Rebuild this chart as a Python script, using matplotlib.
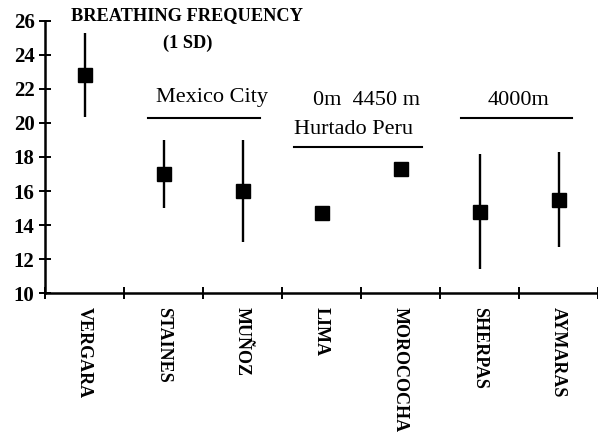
import matplotlib
matplotlib.use("Agg")
import matplotlib.pyplot as plt

# breathing frequency, mean and 1 SD per study
studies = ["VERGARA", "STAINES", "MUÑOZ", "LIMA", "MOROCOCHA", "SHERPAS", "AYMARAS"]
means = [22.8, 17.0, 16.0, 14.7, 17.3, 14.8, 15.5]
sds = [2.45, 2.0, 3.0, 0.45, 0.35, 3.4, 2.8]

plt.rcParams['font.family'] = ['Liberation Serif', 'DejaVu Serif']

fig = plt.figure(figsize=(5.98, 4.37), dpi=100)
ax = fig.add_axes([45 / 598, 1 - 293.3 / 437, 553 / 598, 272.6 / 437])

x = list(range(len(studies)))
ax.errorbar(x, means, yerr=sds, fmt='s', color='black', ms=10.5,
            elinewidth=1.7, capsize=0)

ax.set_xlim(-0.5, 6.4)
ax.set_ylim(10, 26)
ax.set_yticks(range(10, 27, 2))
ax.set_yticklabels([str(v) for v in range(10, 27, 2)], fontweight='bold', fontsize=15)

# ticks sit on the boundaries between studies, labels under each study
ax.set_xticks([i + 0.5 for i in range(-1, 7)])
ax.set_xticklabels([])
ax.set_xticks(x, minor=True)
ax.set_xticklabels(studies, minor=True, rotation=270, fontweight='bold',
                   fontsize=13, va='top', ha='center')
ax.tick_params(axis='x', which='minor', length=0, pad=10)
ax.tick_params(axis='both', which='major', direction='inout', length=9, width=1.4)
ax.tick_params(axis='y', pad=3)

for s in ['top', 'right']:
    ax.spines[s].set_visible(False)
ax.spines['left'].set_linewidth(1.8)
ax.spines['bottom'].set_linewidth(1.8)

ax.text(1.3, 26.32, "BREATHING FREQUENCY", fontweight='bold', fontsize=13.2,
        ha='center', va='center')
ax.text(1.3, 24.68, "(1 SD)", fontweight='bold', fontsize=13.2,
        ha='center', va='center')

ax.text(1.62, 21.5, "Mexico City", fontsize=16, ha='center', va='center')
ax.plot([0.81, 2.22], [20.28, 20.28], color='black', lw=1.5)

ax.text(3.57, 21.3, "0m  4450 m", fontsize=16, ha='center', va='center')
ax.text(3.41, 19.6, "Hurtado Peru", fontsize=16, ha='center', va='center')
ax.plot([2.65, 4.27], [18.58, 18.58], color='black', lw=1.5)

ax.text(5.49, 21.3, "4000m", fontsize=16, ha='center', va='center')
ax.plot([4.76, 6.17], [20.28, 20.28], color='black', lw=1.5)

fig.savefig("out.png", dpi=100)
